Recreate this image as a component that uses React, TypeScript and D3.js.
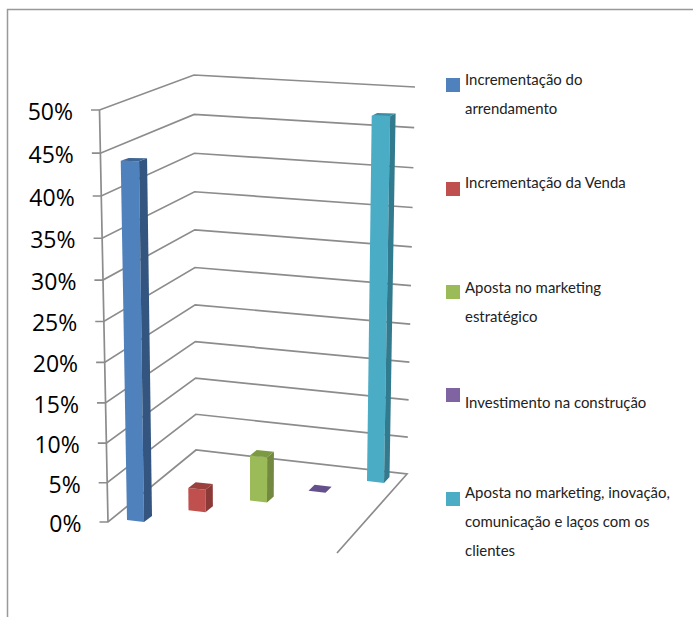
import React from "react";
import * as d3 from "d3";

const seriesNames = [
  "Incrementação do arrendamento",
  "Incrementação da Venda",
  "Aposta no marketing estratégico",
  "Investimento na construção",
  "Aposta no marketing, inovação, comunicação e laços com os clientes",
];
const seriesValues = [44.1, 2.9, 5.9, 0, 47.1];
const tickValues = [0, 5, 10, 15, 20, 25, 30, 35, 40, 45, 50];

const legendLines = [
  ["Incrementação do", "arrendamento"],
  ["Incrementação da Venda"],
  ["Aposta no marketing", "estratégico"],
  ["Investimento na construção"],
  ["Aposta no marketing, inovação,", "comunicação e laços com os", "clientes"],
];

const frontColors = ["#4f81bd", "#c0504d", "#9bbb59", "#8064a2", "#4bacc6"];
const sideColors = ["#33557f", "#8c3a38", "#72893f", "#5d4978", "#327a8e"];
const topColors = ["#3d6596", "#9c403d", "#7c9a42", "#64508a", "#3a8ea6"];

const GRID = "#8c8c8c";
const FORE = 0.052; // vertical foreshortening of the box

// Height fraction to screen y along one vertical edge of the box.
const edgeY = (y0: number, y1: number) => (t: number) =>
  (y0 + (y1 * (1 - FORE) - y0) * t) / (1 - FORE * t);

const valueToT = d3.scaleLinear().domain([0, 50]).range([0, 1]);

// The three vertical edges of the wall planes.
const leftX = d3.scaleLinear().domain([0, 1]).range([108, 99.5]);
const leftY = edgeY(522, 110);
const backX = d3.scaleLinear().domain([0, 1]).range([196, 194]);
const backY = edgeY(450, 75);
const rightX = d3.scaleLinear().domain([0, 1]).range([407, 415]);
const rightY = edgeY(474, 87);

// Bars stand along a diagonal of the floor.
const barX = d3.scaleLinear().domain([0, 2, 4]).range([127, 250, 367]);
const barBase = d3.scaleLinear().domain([0, 4]).range([520, 481]);
const barFull = d3.scaleLinear().domain([0, 4]).range([410, 389]);
const barLean = d3.scaleLinear().domain([0, 2, 4]).range([-7.1, 0, 5]);
const barDepth = d3.scaleLinear().domain([0, 4]).range([8, 5.5]);
const barWidth = d3.scaleLinear().domain([0, 1]).range([17, 18.5]);
const barTilt = d3.scaleLinear().domain([0, 1]).range([1.9, 0.3]);
const depthRise = d3.scaleLinear().domain([0, 1]).range([-6, -2.4]);

const poly = (pts: [number, number][]) => pts.map((p) => p.join(",")).join(" ");

function Bar({ i, value }: { i: number; value: number }) {
  const t = valueToT(value);
  const y0 = barBase(i);
  const yAt = edgeY(y0, y0 - barFull(i));
  const corners = (h: number) => {
    const x = barX(i) + barLean(i) * h;
    const y = yAt(h);
    const w = barWidth(h);
    const l: [number, number] = [x, y];
    const r: [number, number] = [x + w, y + barTilt(h)];
    const dx = barDepth(i);
    const dy = depthRise(h);
    const rb: [number, number] = [r[0] + dx, r[1] + dy];
    const lb: [number, number] = [l[0] + dx, l[1] + dy];
    return { l, r, rb, lb };
  };
  const bottom = corners(0);
  const top = corners(t);
  return (
    <g>
      <polygon points={poly([top.l, top.r, bottom.r, bottom.l])} fill={frontColors[i]} />
      <polygon points={poly([top.r, top.rb, bottom.rb, bottom.r])} fill={sideColors[i]} />
      <polygon points={poly([top.l, top.r, top.rb, top.lb])} fill={topColors[i]} />
    </g>
  );
}

export default function App() {
  const gridLine = d3.line();
  const legendTop = [78, 182, 285, 388, 492];
  const firstBaseline = [84.5, 188, 292.5, 408, 498];
  return (
    <svg
      width={693}
      height={617}
      viewBox="0 0 693 617"
      style={{ position: "absolute", left: 0, top: 0, display: "block", background: "#fff" }}
    >
      <path d="M7.5,617V9.5H693" fill="none" stroke="#999" strokeWidth={1.5} />

      {tickValues.map((v) => {
        const t = valueToT(v);
        const pts: [number, number][] = [
          [leftX(t) - 8.5, leftY(t)],
          [leftX(t), leftY(t)],
          [backX(t), backY(t)],
          [rightX(t), rightY(t)],
        ];
        if (v === 0) pts.push([337, 553]);
        return (
          <g key={v}>
            <path d={gridLine(pts) ?? ""} fill="none" stroke={GRID} strokeWidth={1.7} />
            <text
              x={leftX(t) - 26.5}
              y={leftY(t) + 10}
              textAnchor="end"
              fontFamily="'Open Sans', sans-serif"
              fontSize={23}
              fill="#000"
            >
              {v}%
            </text>
          </g>
        );
      })}
      <line x1={leftX(0)} y1={leftY(0)} x2={leftX(1)} y2={leftY(1)} stroke={GRID} strokeWidth={1.7} />

      {seriesValues.map((v, i) => (
        <Bar key={seriesNames[i]} i={i} value={v} />
      ))}

      {seriesNames.map((name, i) => (
        <g key={name}>
          <rect x={446} y={legendTop[i]} width={14} height={14} fill={frontColors[i]} />
          {legendLines[i].map((line, j) => (
            <text
              key={line}
              x={465}
              y={firstBaseline[i] + j * 29}
              fontFamily="Lato, sans-serif"
              fontSize={14.95}
              fill="#222"
            >
              {line}
            </text>
          ))}
        </g>
      ))}
    </svg>
  );
}
